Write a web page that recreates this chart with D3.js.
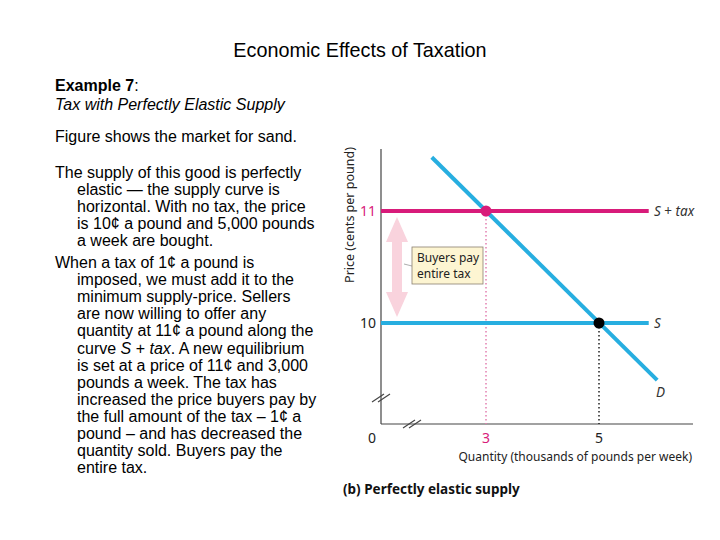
<!DOCTYPE html>
<html>
<head>
<meta charset="utf-8">
<script src="https://cdn.jsdelivr.net/npm/d3@7"></script>
<style>
  body { margin: 0; background: #fff; }
  svg { display: block; }
</style>
</head>
<body>
<script>
// chart values
const supplyPrice = 10;          // cents per pound, no tax
const taxAmount = 1;             // cents per pound
const supplyQRange = [1.14, 5.88];
const demandPoints = [[2.04, 11.48], [6.03, 9.49]];  // [quantity, price]
const equilibria = [
  { q: 3, p: 11, color: "#d81b7a" },   // with tax
  { q: 5, p: 10, color: "#000" }       // no tax
];
const xTicks = [3, 5];
const yTicks = [10, 11];
const tickColors = { 3: "#d81b7a", 5: "#222", 10: "#222", 11: "#d81b7a" };

const textParas = [
  ["The supply of this good is perfectly",
   "elastic \u2014 the supply curve is",
   "horizontal. With no tax, the price",
   "is 10\u00a2 a pound and 5,000 pounds",
   "a week are bought."],
  ["When a tax of 1\u00a2 a pound is",
   "imposed, we must add it to the",
   "minimum supply-price. Sellers",
   "are now willing to offer any",
   "quantity at 11\u00a2 a pound along the",
   "curve <i>S</i> + <i>tax</i>. A new equilibrium",
   "is set at a price of 11\u00a2 and 3,000",
   "pounds a week. The tax has",
   "increased the price buyers pay by",
   "the full amount of the tax \u2013 1\u00a2 a",
   "pound \u2013 and has decreased the",
   "quantity sold.  Buyers pay the",
   "entire tax."]
];

const W = 720, H = 540;
const blue = "#27aee0", pink = "#d81b7a";
const svg = d3.select("body").append("svg").attr("width", W).attr("height", H);

// title
svg.append("text")
  .attr("x", 360).attr("y", 57)
  .attr("text-anchor", "middle")
  .style("font-family", "Liberation Sans, Arial, sans-serif")
  .style("font-size", "19.8px")
  .text("Economic Effects of Taxation");

// left text block
const txt = svg.append("g")
  .style("font-family", "Liberation Sans, Arial, sans-serif")
  .style("font-size", "16px")
  .attr("fill", "#000");

const ex = txt.append("text").attr("x", 55).attr("y", 91);
ex.append("tspan").style("font-weight", "bold").text("Example 7");
ex.append("tspan").text(":");
txt.append("text").attr("x", 55).attr("y", 110)
  .style("font-style", "italic").text("Tax with Perfectly Elastic Supply");
txt.append("text").attr("x", 55).attr("y", 142).text("Figure shows the market for sand.");

const paraStart = [178, 268];
textParas.forEach((lines, pi) => {
  lines.forEach((line, i) => {
    const t = txt.append("text")
      .attr("x", i === 0 ? 55 : 77)
      .attr("y", paraStart[pi] + i * 17.1);
    // simple italic handling
    line.split(/(<i>.*?<\/i>)/).forEach(part => {
      if (!part) return;
      if (part.startsWith("<i>")) t.append("tspan").style("font-style", "italic").text(part.slice(3, -4));
      else t.append("tspan").text(part);
    });
  });
});

// chart scales
const x = d3.scaleLinear().domain([3, 5]).range([486, 599]);
const y = d3.scaleLinear().domain([10, 11]).range([323, 211]);
const x0 = 381, y0 = 424;
const chartFont = "Noto Sans, DejaVu Sans, sans-serif";

const g = svg.append("g").style("font-family", chartFont);

// axes lines
g.append("line").attr("x1", x0).attr("x2", x0).attr("y1", 149).attr("y2", y0)
  .attr("stroke", "#444").attr("stroke-width", 1.2);
g.append("line").attr("x1", x0).attr("x2", 693).attr("y1", y0).attr("y2", y0)
  .attr("stroke", "#444").attr("stroke-width", 1.2);

// break marks
[[x0, 398], [412, y0]].forEach(([bx, by]) => {
  [-3, 3].forEach(o => {
    g.append("line")
      .attr("x1", bx - 6 + o).attr("y1", by + 4)
      .attr("x2", bx + 6 + o).attr("y2", by - 4)
      .attr("stroke", "#444").attr("stroke-width", 1.1);
  });
});

// tick labels
g.selectAll(".xt").data(xTicks).join("text")
  .attr("x", d => x(d)).attr("y", 443)
  .attr("text-anchor", "middle")
  .attr("fill", d => tickColors[d])
  .style("font-size", "14px")
  .text(d => d);
g.append("text").attr("x", 372).attr("y", 443).attr("text-anchor", "middle")
  .attr("fill", "#222").style("font-size", "14px").text("0");
g.selectAll(".yt").data(yTicks).join("text")
  .attr("x", 376).attr("y", d => y(d) + 5)
  .attr("text-anchor", "end")
  .attr("fill", d => tickColors[d])
  .style("font-size", "14px")
  .text(d => d);

// axis titles
g.append("text")
  .attr("transform", `translate(354,215) rotate(-90)`)
  .attr("text-anchor", "middle")
  .attr("fill", "#222")
  .style("font-size", "12.5px")
  .text("Price (cents per pound)");
g.append("text")
  .attr("x", 692).attr("y", 461)
  .attr("text-anchor", "end")
  .attr("fill", "#222")
  .style("font-size", "12px")
  .text("Quantity (thousands of pounds per week)");
g.append("text")
  .attr("x", 343).attr("y", 494)
  .attr("fill", "#111")
  .style("font-size", "13.5px")
  .style("font-weight", "bold")
  .text("(b) Perfectly elastic supply");

// dotted guides
equilibria.forEach(e => {
  g.append("line")
    .attr("x1", x(e.q)).attr("x2", x(e.q))
    .attr("y1", y(e.p)).attr("y2", y0)
    .attr("stroke", e.color === "#000" ? "#222" : "#e27fb0")
    .attr("stroke-width", 1.5)
    .attr("stroke-dasharray", "1.5,2.5");
});

// double arrow (buyers pay entire tax)
const ax = 397, aTop = y(supplyPrice + taxAmount) + 6, aBot = y(supplyPrice) - 6;
const hw = 11, sw = 5, hh = 25;
g.append("path")
  .attr("d", `M${ax},${aTop} L${ax + hw},${aTop + hh} L${ax + sw},${aTop + hh} L${ax + sw},${aBot - hh}
    L${ax + hw},${aBot - hh} L${ax},${aBot} L${ax - hw},${aBot - hh} L${ax - sw},${aBot - hh}
    L${ax - sw},${aTop + hh} L${ax - hw},${aTop + hh} Z`)
  .attr("fill", "#f9d3dd");

// supply lines
g.append("line")
  .attr("x1", x0).attr("x2", x(supplyQRange[1]))
  .attr("y1", y(supplyPrice)).attr("y2", y(supplyPrice))
  .attr("stroke", blue).attr("stroke-width", 4);
g.append("line")
  .attr("x1", x0).attr("x2", x(supplyQRange[1]))
  .attr("y1", y(supplyPrice + taxAmount)).attr("y2", y(supplyPrice + taxAmount))
  .attr("stroke", pink).attr("stroke-width", 4);

// demand
g.append("path")
  .attr("d", d3.line().x(d => x(d[0])).y(d => y(d[1]))(demandPoints))
  .attr("stroke", blue).attr("stroke-width", 4).attr("fill", "none");

// equilibrium points
g.selectAll(".eq").data(equilibria).join("circle")
  .attr("cx", d => x(d.q)).attr("cy", d => y(d.p))
  .attr("r", 5.5).attr("fill", d => d.color);

// curve labels
const lab = g.append("g").attr("fill", "#333").style("font-size", "13.5px");
const sTax = lab.append("text").attr("x", 654).attr("y", y(supplyPrice + taxAmount) + 5);
sTax.append("tspan").style("font-style", "italic").text("S");
sTax.append("tspan").text(" + ");
sTax.append("tspan").style("font-style", "italic").text("tax");
lab.append("text").attr("x", 654).attr("y", y(supplyPrice) + 5).style("font-style", "italic").text("S");
lab.append("text").attr("x", 656).attr("y", 397).style("font-style", "italic").text("D");

// annotation box
g.append("line").attr("x1", 404).attr("x2", 412).attr("y1", 264).attr("y2", 266)
  .attr("stroke", "#999").attr("stroke-width", 0.8);
g.append("rect")
  .attr("x", 412).attr("y", 247).attr("width", 71).attr("height", 37)
  .attr("fill", "#fdf5d2").attr("stroke", "#8a7f70").attr("stroke-width", 0.8);
g.append("text").attr("x", 417).attr("y", 262).attr("fill", "#222").style("font-size", "12px").text("Buyers pay");
g.append("text").attr("x", 417).attr("y", 278).attr("fill", "#222").style("font-size", "12px").text("entire tax");
</script>
</body>
</html>
